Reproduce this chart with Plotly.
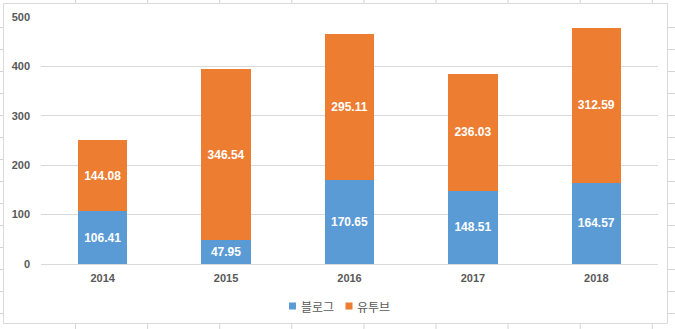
import plotly.graph_objects as go

# Data
years = ["2014", "2015", "2016", "2017", "2018"]
blog = [106.41, 47.95, 170.65, 148.51, 164.57]
youtube = [144.08, 346.54, 295.11, 236.03, 312.59]
series_names = ["블로그", "유투브"]
series_colors = ["#5B9BD5", "#ED7D31"]
y_ticks = [0, 100, 200, 300, 400, 500]

W, H = 675, 329
# plot area in pixels
L, R, T, B = 41, 658, 17, 264


def px(x):
    return (x - L) / (R - L)


def py(y):
    return (B - y) / (B - T)


fig = go.Figure()
for name, vals, col in zip(series_names, [blog, youtube], series_colors):
    fig.add_trace(go.Bar(
        x=years, y=vals, name=name,
        marker=dict(color=col, line=dict(width=0)),
        text=[f"{v:.2f}" for v in vals],
        textposition="inside", insidetextanchor="middle",
        textangle=0, constraintext="none",
        textfont=dict(family="Liberation Sans", size=12, color="white", weight="bold"),
        showlegend=False,
    ))

shapes = []
annotations = []

# chart frame
shapes.append(dict(type="rect", xref="paper", yref="paper",
                   x0=px(3.5), x1=px(667.5), y0=py(3.5), y1=py(323.5),
                   line=dict(color="#D9D9D9", width=1), fillcolor="rgba(0,0,0,0)",
                   layer="below"))

# worksheet cell lines around the frame
grid_col = "#D4D4D4"
for k in range(9):
    x = 75.5 + 72.1 * k
    for (a, b) in [(0, 3), (324, 329)]:
        shapes.append(dict(type="line", xref="paper", yref="paper",
                           x0=px(x), x1=px(x), y0=py(a), y1=py(b),
                           line=dict(color=grid_col, width=1)))
for k in range(14):
    y = 27.5 + 22 * k
    for (a, b) in [(0, 3), (668, 675)]:
        shapes.append(dict(type="line", xref="paper", yref="paper",
                           x0=px(a), x1=px(b), y0=py(y), y1=py(y),
                           line=dict(color=grid_col, width=1)))

# legend entries
legend_sq = [(289, 296), (345.5, 352.5)]
legend_tx = [298.5, 355]
for (s0, s1), tx, name, col in zip(legend_sq, legend_tx, series_names, series_colors):
    shapes.append(dict(type="rect", xref="paper", yref="paper",
                       x0=px(s0), x1=px(s1), y0=py(309.5), y1=py(302.5),
                       line=dict(width=0), fillcolor=col))
    annotations.append(dict(xref="paper", yref="paper", x=px(tx), y=py(306),
                            xanchor="left", yanchor="middle", showarrow=False,
                            text=name,
                            font=dict(family="Noto Sans CJK KR", size=12, color="#595959")))

fig.update_layout(
    width=W, height=H,
    margin=dict(l=L, r=W - R, t=T, b=H - B, pad=0),
    barmode="stack", bargap=0.6,
    paper_bgcolor="white", plot_bgcolor="white",
    showlegend=False,
    shapes=shapes, annotations=annotations,
    xaxis=dict(type="category", showgrid=False, showline=True, linecolor="#D9D9D9",
               linewidth=1, ticks="", zeroline=False,
               tickfont=dict(family="Liberation Sans", size=11, color="#595959", weight="bold"),
               ticklabelstandoff=4),
    yaxis=dict(range=[0, 500], tickvals=y_ticks, showgrid=True, gridcolor="#D9D9D9",
               gridwidth=1, zeroline=False, showline=False, ticks="",
               tickfont=dict(family="Liberation Sans", size=11, color="#595959", weight="bold"),
               ticklabelstandoff=10),
)

fig.write_html("out.html")
